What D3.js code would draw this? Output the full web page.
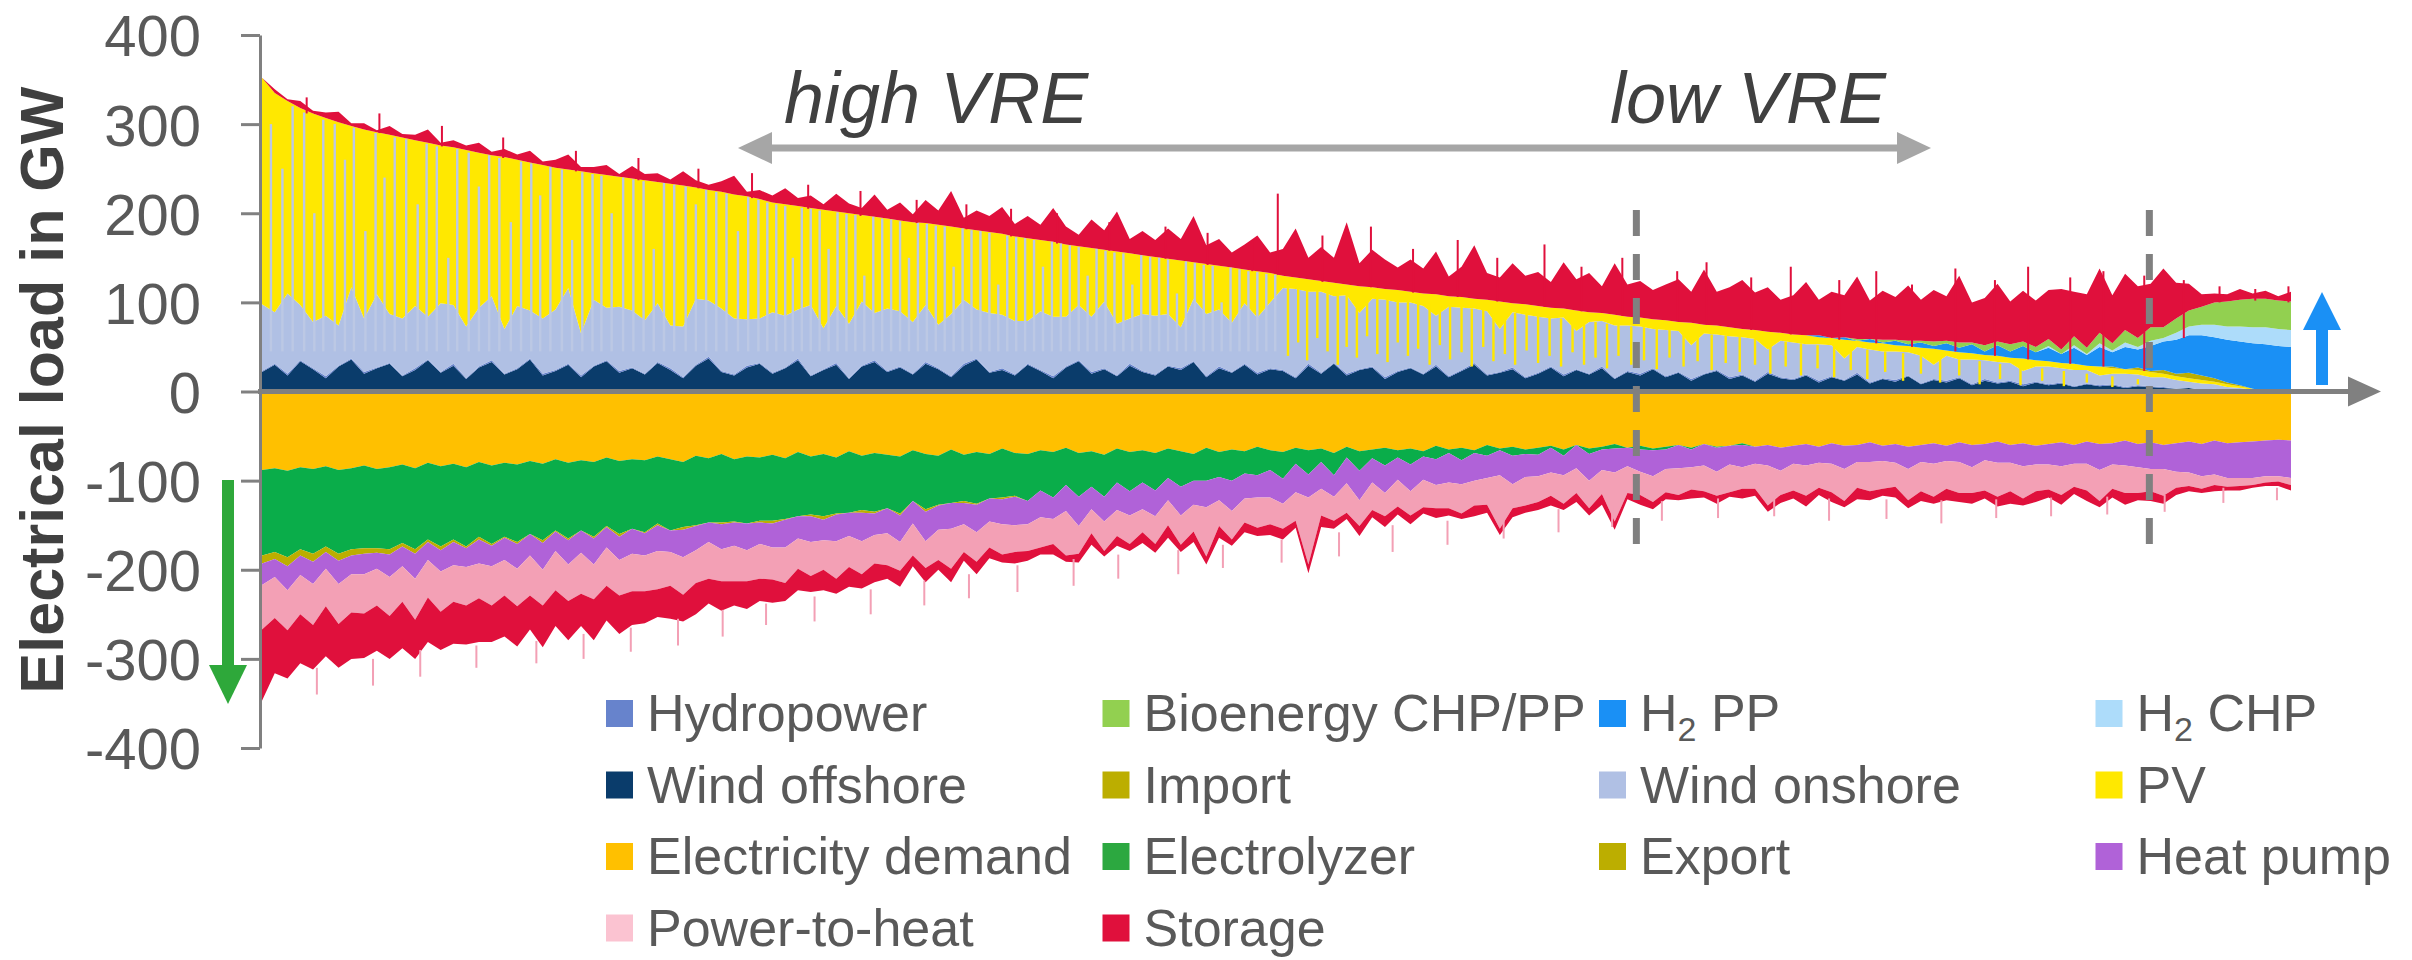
<!DOCTYPE html>
<html><head><meta charset="utf-8">
<script src="https://cdn.jsdelivr.net/npm/d3@7"></script>
<style>
body{margin:0;background:#fff}
svg{display:block}
text{font-family:"Liberation Sans",Arial,sans-serif}
</style>
</head><body>
<svg id="c" width="2412" height="960"></svg>
<script>
// ---- DATA (GW, hours sorted from high VRE to low VRE; 160 samples) ----
const vreTotal = [
352,335,326,318,312,307,302,298,294,291,
288,285,282,279,276,274,271,268,265,263,
260,257,254,251,249,247,245,243,241,239,
237,235,233,231,229,226,224,221,219,216,
212,210,208,206,204,202,200,198,196,194,
192,190,189,187,185,183,181,179,177,174,
172,170,168,165,163,161,159,157,155,153,
151,149,147,145,143,141,139,137,135,133,
130,128,126,124,122,120,118,117,115,114,
112,110,109,107,106,104,103,101,99,98,
96,94,93,91,89,88,86,84,83,81,
80,78,77,75,74,72,70,69,67,66,
64,63,61,60,58,57,55,54,52,51,
49,48,46,44,43,41,40,38,37,35,
34,32,31,29,28,26,25,24,22,20,
17,15,13,11,8,6,3,1,0,0];
const windOffshore = [
22,30,18,34,25,15,28,36,20,26,
31,17,24,35,21,29,14,27,33,19,
25,36,18,23,30,16,28,34,21,26,
19,32,24,15,29,37,22,18,27,31,
20,26,35,17,24,30,14,28,33,22,
27,19,31,25,16,29,36,21,24,18,
30,23,15,27,34,20,25,17,29,22,
18,28,24,33,16,26,21,30,19,25,
23,15,29,20,31,18,24,27,14,22,
26,19,28,16,23,30,18,21,25,15,
20,27,17,24,19,26,14,22,18,25,
16,21,12,19,23,14,18,11,20,15,
13,18,10,16,12,19,9,14,11,17,
8,13,10,15,7,12,9,11,6,10,
7,9,5,8,6,7,4,6,5,4,
3,4,2,3,1,2,1,0,0,0];
const hydropower = [
1,1,2,1,1,2,1,1,2,1, 1,1,2,1,1,2,1,1,2,1, 1,1,2,1,1,2,1,1,2,1,
1,1,2,1,1,2,1,1,2,1, 1,1,2,1,1,2,1,1,2,1, 1,1,2,1,1,2,1,1,2,1,
1,1,2,1,1,2,1,1,2,1, 1,1,2,1,1,2,1,1,2,1, 1,1,2,1,1,2,1,1,2,1,
1,1,2,1,1,2,1,1,2,1, 1,1,2,1,1,2,1,1,2,1, 1,1,2,1,1,2,1,1,2,1,
1,1,2,1,1,2,1,1,2,1, 1,1,2,1,1,2,1,1,2,1, 1,1,1,1,1,1,1,1,1,1,
0,0,0,0,0,0,0,0,0,0];
const windOnshore = [
75,58,90,62,52,68,45,80,60,82,
55,64,70,48,77,66,58,66,72,50,
70,54,62,68,85,47,74,59,72,64,
60,66,48,57,74,63,70,63,52,50,
68,58,55,79,46,64,61,72,53,70,
62,58,64,49,70,72,55,66,60,60,
48,66,67,56,62,62,75,58,51,64,
66,58,46,70,70,64,55,68,62,74,
92,99,81,91,75,88,63,76,87,77,
73,76,55,78,70,61,71,48,62,70,
63,54,64,43,58,51,59,51,53,44,
52,46,38,45,40,46,42,47,25,41,
41,34,41,35,24,29,37,30,32,26,
31,16,28,20,28,21,23,20,15,17,
20,16,18,15,11,12,15,12,10,11,
10,7,7,5,4,2,1,0,0,0];
// thin hourly stripes where wind onshore covers (almost) all VRE: [position, top GW]
const onshorePeakHours = [
[0.7,300],[1.6,250],[2.4,320],[3.3,313],[4.1,200],[4.8,305],[5.7,300],[6.5,260],[7.2,296],[8.1,180],
[8.9,290],[9.6,240],[10.4,285],[11.3,283],[12.2,210],[12.9,278],[13.7,275],[14.6,150],[15.3,272],[16.2,268],
[17.0,230],[17.8,265],[18.6,262],[19.5,190],[20.3,258],[21.1,256],[21.8,220],[22.6,252],[23.5,249],[24.3,170],
[25.1,246],[25.9,244],[26.6,242],[27.4,200],[28.3,240],[29.1,238],[29.9,236],[30.7,160],[31.5,234],[32.3,232],
[33.2,230],[34.0,210],[34.8,226],[35.6,224],[36.4,222],[37.3,180],[38.1,218],[38.9,215],[39.6,212],[40.3,210],
[41.0,208],[41.6,150],[42.3,206],[43.0,205],[43.7,203],[44.4,160],[45.1,201],[45.8,199],[46.5,198],[47.2,130],
[47.9,196],[48.6,194],[49.3,193],[50.0,191],[50.7,150],[51.4,189],[52.1,188],[52.8,186],[53.5,185],[54.2,140],
[54.9,183],[55.6,181],[56.3,180],[57.0,178],[57.7,120],[58.4,175],[59.1,173],[59.8,172],[60.5,170],[61.2,140],
[61.9,168],[62.6,166],[63.3,164],[64.0,162],[64.7,130],[65.4,160],[66.1,158],[66.8,156],[67.5,155],[68.2,120],
[68.9,153],[69.6,151],[70.3,150],[71.0,148],[71.7,110],[72.4,146],[73.1,144],[73.8,142],[74.5,141],[75.2,100],
[75.9,139],[76.6,137],[77.3,135],[78.0,134],[78.7,132],[79.4,131]];
// thin hourly stripes where PV reaches down into the wind band: [position, bottom GW, top GW]
const pvPeakHours = [
[80.4,40,120],[81.2,55,118],[81.9,35,117],[82.7,60,115],[83.5,45,113],[84.3,30,112],[85.0,50,110],[85.8,38,108],
[86.6,62,107],[87.4,42,106],[88.2,33,104],[89.0,55,103],[89.8,40,101],[90.6,48,100],[91.5,30,99],[92.3,52,97],
[93.1,36,96],[94.0,44,95],[94.8,28,93],[95.7,50,92],[96.5,34,91],[97.4,42,89],[98.2,30,88],[99.1,46,87],
[100.0,32,85],[100.9,40,84],[101.8,28,82],[102.7,44,81],[103.6,30,79],[104.5,38,78],[105.4,26,76],[106.3,40,75],
[107.3,30,73],[108.3,35,72],[109.3,25,70],[110.3,38,69],[111.4,28,67],[112.5,34,66],[113.6,24,64],[114.7,32,63],
[115.8,22,61],[117.0,30,59],[118.2,20,57],[119.4,28,56],[120.6,18,54],[121.9,26,52],[123.2,16,51],[124.5,24,49],
[125.8,14,47],[127.2,22,45],[128.6,12,43],[130.0,20,41],[131.5,10,39],[133.0,18,36],[134.6,8,34],[136.2,14,31],
[137.8,7,29],[139.5,12,26],[141.2,6,23],[143.0,10,20],[145.0,5,17],[147.0,8,14]];
// single-hour storage discharge peaks above the envelope: [position, base GW, top GW]
const storagePeakHours = [
[3.5,312,330],[9.2,290,312],[14.1,275,298],[18.9,262,285],[24.6,247,270],[29.5,237,262],[34.2,228,250],[38.4,217,245],
[42.8,205,232],[46.9,197,225],[51.3,189,215],[55.2,182,210],[58.7,174,205],[62.3,166,200],[66.4,158,190],[70.8,149,185],
[74.1,142,178],[77.6,135,170],[79.6,131,222],[83.1,123,175],[86.9,117,185],[90.2,111,160],[93.7,106,170],[96.8,101,150],
[100.5,95,165],[103.4,90,140],[106.6,85,150],[110.9,79,135],[113.2,75,145],[116.7,69,128],[119.8,64,140],[123.6,58,125],
[126.5,54,135],[129.3,50,120],[132.7,45,138],[135.8,40,125],[138.4,36,140],[141.7,31,128],[144.3,28,135],[147.5,23,130],
[150.6,60,125],[153.4,100,118],[156.2,102,115],[158.8,100,118]];
// single-hour power-to-heat peaks below the envelope: [position, from GW, to GW]
const powerToHeatPeakHours = [
[4.3,-310,-340],[8.7,-300,-330],[12.4,-290,-320],[16.8,-285,-310],[21.5,-280,-305],[25.2,-272,-300],[28.9,-265,-292],
[32.6,-255,-285],[36.1,-245,-275],[39.5,-238,-262],[43.3,-230,-258],[47.7,-222,-250],[51.9,-212,-240],[55.4,-205,-232],
[59.2,-195,-225],[63.6,-188,-218],[67.1,-183,-210],[71.8,-178,-205],[75.3,-172,-198],[79.9,-166,-192],[84.4,-158,-185],
[88.6,-150,-180],[92.9,-145,-172],[97.3,-138,-165],[101.6,-132,-158],[105.8,-128,-152],[109.7,-123,-145],[114.1,-120,-142],
[118.5,-119,-140],[122.8,-120,-145],[127.3,-121,-143],[131.6,-122,-148],[135.9,-121,-142],[140.2,-119,-140],[144.6,-118,-138],
[149.1,-116,-135],[153.7,-108,-125],[157.9,-108,-122]];
const importPower = [
0,0,0,0,0,0,0,0,0,0, 0,0,0,0,0,0,0,0,0,0, 0,0,0,0,0,0,0,0,0,0,
0,0,0,0,0,0,0,0,0,0, 0,0,0,0,0,0,0,0,0,0, 0,0,0,0,0,0,0,0,0,0,
0,0,0,0,0,0,0,0,0,0, 0,0,0,0,0,0,0,0,0,0, 0,0,0,0,0,0,0,0,0,0,
0,0,0,0,0,0,0,0,0,0, 0,0,0,0,0,0,0,0,0,0, 0,0,0,0,0,0,0,0,0,0,
0,0,0,0,0,0,0,0,0,0, 0,0,0,0,0,0,0,0,0,0, 0,0,0,0,0,2,0,3,1,4,
3,6,5,4,2,1,0,0,0,0];
const h2PP = [
0,0,0,0,0,0,0,0,0,0, 0,0,0,0,0,0,0,0,0,0, 0,0,0,0,0,0,0,0,0,0,
0,0,0,0,0,0,0,0,0,0, 0,0,0,0,0,0,0,0,0,0, 0,0,0,0,0,0,0,0,0,0,
0,0,0,0,0,0,0,0,0,0, 0,0,0,0,0,0,0,0,0,0, 0,0,0,0,0,0,0,0,0,0,
0,0,0,0,0,0,0,0,0,0, 0,0,0,0,0,0,0,0,0,0, 0,0,0,0,0,0,0,0,0,0,
0,0,2,0,3,0,4,1,5,2, 6,3,8,5,10,4,12,7,14,9, 15,10,18,12,22,16,25,20,28,32,
38,42,45,46,48,49,51,52,51,50];
const h2CHP = [
0,0,0,0,0,0,0,0,0,0, 0,0,0,0,0,0,0,0,0,0, 0,0,0,0,0,0,0,0,0,0,
0,0,0,0,0,0,0,0,0,0, 0,0,0,0,0,0,0,0,0,0, 0,0,0,0,0,0,0,0,0,0,
0,0,0,0,0,0,0,0,0,0, 0,0,0,0,0,0,0,0,0,0, 0,0,0,0,0,0,0,0,0,0,
0,0,0,0,0,0,0,0,0,0, 0,0,0,0,0,0,0,0,0,0, 0,0,0,0,0,0,0,0,0,0,
0,0,0,0,0,0,0,0,0,0, 0,0,0,0,0,0,0,0,0,0, 2,0,3,1,4,2,5,3,6,4,
8,10,12,14,15,17,18,19,19,19];
const bioenergy = [
0,0,0,0,0,0,0,0,0,0, 0,0,0,0,0,0,0,0,0,0, 0,0,0,0,0,0,0,0,0,0,
0,0,0,0,0,0,0,0,0,0, 0,0,0,0,0,0,0,0,0,0, 0,0,0,0,0,0,0,0,0,0,
0,0,0,0,0,0,0,0,0,0, 0,0,0,0,0,0,0,0,0,0, 0,0,0,0,0,0,0,0,0,0,
0,0,0,0,0,0,0,0,0,0, 0,0,0,0,0,0,0,0,0,0, 0,0,0,0,0,0,0,0,0,0,
0,0,0,0,0,2,0,3,1,4, 2,5,3,6,2,7,4,8,5,6, 8,5,10,7,12,8,14,10,15,12,
16,18,20,25,28,30,32,32,32,32];
const storageDischarge = [
0,4,2,8,3,6,12,3,7,2,
10,4,6,15,3,8,5,11,4,9,
6,13,4,9,17,5,7,11,3,14,
7,10,5,16,8,6,12,21,5,10,
8,18,9,14,6,20,11,8,25,10,
20,9,26,16,40,12,22,18,30,14,
25,17,38,20,13,32,22,45,16,27,
19,34,24,52,21,30,17,28,40,23,
30,55,24,38,28,70,26,42,33,25,
36,28,48,22,34,60,30,27,45,32,
38,29,52,35,44,30,58,36,41,33,
40,48,35,62,38,45,55,42,50,37,
44,60,40,52,47,70,43,55,48,62,
46,58,50,75,45,53,65,48,57,52,
55,68,50,60,72,54,63,58,49,66,
40,30,14,10,8,12,6,9,5,11];
// consumption side (GW, drawn downward)
const demand = [
88,86,89,85,87,84,88,86,83,87,
85,82,86,80,84,81,85,79,83,80,
82,78,81,76,80,77,79,74,78,76,
77,73,76,79,72,75,70,76,73,74,
71,75,68,73,70,74,67,72,69,71,
73,66,70,72,65,71,68,70,64,69,
70,66,68,63,69,67,71,64,68,66,
69,64,67,70,63,68,65,67,62,66,
68,63,66,64,69,62,67,65,63,66,
64,67,61,65,63,66,60,64,62,65,
63,61,65,60,64,62,59,63,61,64,
62,60,63,59,62,61,58,62,60,63,
61,59,62,58,61,60,57,61,59,62,
60,58,61,57,60,59,56,60,58,61,
59,57,60,56,59,58,55,59,57,60,
58,56,59,55,58,57,56,55,54,55];
const electrolyzer = [
96,94,97,92,95,90,94,91,93,89,
92,88,91,86,90,85,89,84,88,83,
87,82,86,80,85,79,84,77,82,78,
81,75,80,73,78,72,77,70,75,71,
74,68,72,65,70,63,69,61,66,60,
64,57,62,55,60,52,58,50,55,48,
53,45,51,42,49,40,47,38,44,36,
42,33,40,30,37,28,35,25,32,22,
30,18,27,15,25,12,22,10,20,8,
18,6,15,4,14,3,12,2,10,5,
8,2,7,0,6,3,5,0,4,2,
3,0,2,0,1,0,2,0,0,0,
0,0,0,0,0,0,0,0,0,0, 0,0,0,0,0,0,0,0,0,0,
0,0,0,0,0,0,0,0,0,0, 0,0,0,0,0,0,0,0,0,0];
const exportPower = [
9,8,10,7,9,6,8,7,6,5,
6,4,5,3,4,3,2,3,2,1,
2,0,3,1,2,0,2,1,3,0,
1,2,0,3,1,0,2,1,0,2,
3,1,0,2,4,1,0,3,2,0,
2,0,3,1,0,2,1,0,2,1,
0,0,0,0,0,0,0,0,0,0, 0,0,0,0,0,0,0,0,0,0, 0,0,0,0,0,0,0,0,0,0,
0,0,0,0,0,0,0,0,0,0, 0,0,0,0,0,0,0,0,0,0, 0,0,0,0,0,0,0,0,0,0,
0,0,0,0,0,0,0,0,0,0, 0,0,0,0,0,0,0,0,0,0, 0,0,0,0,0,0,0,0,0,0,
0,0,0,0,0,0,0,0,0,0];
const heatPump = [
24,20,27,22,25,19,26,21,23,18,
25,22,28,20,24,26,21,27,23,25,
28,24,30,22,27,25,29,23,26,28,
25,29,24,31,27,22,28,26,30,24,
27,31,25,29,23,30,26,32,24,28,
30,25,33,27,29,24,31,26,28,32,
26,30,24,29,33,25,28,31,27,30,
29,25,32,27,30,26,34,28,25,31,
28,32,26,30,24,29,33,27,31,25,
30,26,29,33,27,31,25,28,32,26,
24,28,22,26,30,23,27,21,25,29,
22,26,20,24,27,21,25,19,23,26,
20,24,18,23,26,19,22,17,21,25,
19,23,17,22,25,18,24,20,26,21,
23,27,21,25,29,24,28,26,30,27,
32,35,36,38,39,40,41,40,41,42];
const powerToHeat = [
50,46,45,44,46,42,45,43,44,41,
44,40,46,42,45,41,43,39,44,40,
42,45,40,44,41,46,39,43,40,42,
40,43,38,42,37,41,36,40,35,39,
36,40,34,38,33,42,35,37,32,36,
32,36,30,34,45,31,33,29,34,30,
30,34,28,50,31,27,33,29,32,26,
31,28,33,30,55,29,32,27,34,30,
28,32,75,30,27,33,29,31,26,30,
27,31,26,29,33,28,30,60,27,32,
29,26,32,28,31,27,55,30,26,29,
26,30,25,29,27,31,24,28,45,27,
30,34,28,32,36,29,33,31,27,35,
33,37,31,35,29,34,38,32,36,30,
28,32,26,30,35,27,31,29,25,30,
18,15,14,12,10,9,8,7,6,8];
const storageCharge = [
80,62,54,55,50,56,49,52,50,51,
48,52,44,50,43,47,44,49,41,46,
45,38,47,40,44,36,46,39,43,38,
36,31,37,30,35,28,33,27,31,25,
26,20,24,18,23,17,22,16,21,15,
18,12,16,11,15,10,14,12,9,13,
11,8,12,7,10,13,6,11,8,12,
10,14,8,12,9,13,7,11,9,12,
12,8,10,13,9,7,11,8,12,9,
10,7,11,8,6,12,9,7,10,8,
9,11,7,10,8,12,9,7,11,8,
8,6,10,7,9,5,11,8,7,9,
9,12,8,11,7,13,10,8,12,9,
11,8,13,10,12,9,11,14,8,12,
9,11,8,12,7,10,13,8,11,9,
8,6,5,7,4,5,3,4,5,6];

const yTickValues = [400,300,200,100,0,-100,-200,-300,-400];
const yTickLabels = ["400","300","200","100","0","-100","-200","-300","-400"];
const legendLabels = ["Hydropower","Bioenergy CHP/PP","H2 PP","H2 CHP","Wind offshore","Import","Wind onshore","PV","Electricity demand","Electrolyzer","Export","Heat pump","Power-to-heat","Storage"];
const legendColors = ["#6783cc","#92d050","#1a90f5","#addcfa","#0a3c6b","#bcae00","#b0c0e4","#ffe800","#ffc000","#2ca840","#bcae00","#b062d8","#fbc3d1","#e0103c"];

// ---- BUILD ----
const N = vreTotal.length;
const rows = d3.range(N).map(i => {
  const off = windOffshore[i], hyd = hydropower[i];
  const on = Math.min(windOnshore[i], Math.max(0, vreTotal[i] - off - hyd));
  const pv = Math.max(0, vreTotal[i] - off - hyd - on);
  return {i, off, hyd, on, pv, imp: importPower[i], h2pp: h2PP[i], h2chp: h2CHP[i], bio: bioenergy[i], stoOut: storageDischarge[i],
    dem: -demand[i], ely: -electrolyzer[i], exp: -exportPower[i], hp: -heatPump[i], p2h: -powerToHeat[i], stoIn: -storageCharge[i]};
});
const posKeys = ["off","hyd","on","pv","imp","h2pp","h2chp","bio","stoOut"];
const negKeys = ["dem","ely","exp","hp","p2h","stoIn"];
const fill = {off:"#0a3c6b",hyd:"#6783cc",on:"#b0c0e4",pv:"#ffe800",imp:"#bcae00",h2pp:"#1a90f5",h2chp:"#addcfa",bio:"#92d050",stoOut:"#e0103c",
  dem:"#ffc000",ely:"#0aad4a",exp:"#bcae00",hp:"#b062d8",p2h:"#f3a0b5",stoIn:"#e0103c"};

const svg = d3.select("#c");
svg.append("rect").attr("width",2412).attr("height",960).attr("fill","#fff");
const x = d3.scaleLinear().domain([0, N-1]).range([262, 2291]);
const y = d3.scaleLinear().domain([-400, 400]).range([748, 35]);

const layers = d3.stack().keys(posKeys)(rows).concat(d3.stack().keys(negKeys)(rows));
const area = d3.area().x(d => x(d.data.i)).y0(d => y(d[0])).y1(d => y(d[1])).curve(d3.curveLinear);
const gData = svg.append("g");
gData.selectAll("path").data(layers).join("path")
  .attr("d", area).attr("fill", d => fill[d.key]);

// single-hour stripes / peaks
gData.selectAll("rect.sto").data(storagePeakHours).join("rect").attr("class","sto")
  .attr("x", d => x(d[0]) - 1).attr("width", 2)
  .attr("y", d => y(d[2])).attr("height", d => y(d[1]) - y(d[2])).attr("fill", fill.stoOut);
gData.selectAll("rect.p2h").data(powerToHeatPeakHours).join("rect").attr("class","p2h")
  .attr("x", d => x(d[0]) - 1).attr("width", 2)
  .attr("y", d => y(d[1])).attr("height", d => y(d[2]) - y(d[1])).attr("fill", fill.p2h);
gData.selectAll("rect.on").data(onshorePeakHours).join("rect").attr("class","on")
  .attr("x", d => x(d[0]) - 1.2).attr("width", 2.4)
  .attr("y", d => y(d[1])).attr("height", d => y(45) - y(d[1])).attr("fill", "#bcc8e4");
gData.selectAll("rect.pv").data(pvPeakHours).join("rect").attr("class","pv")
  .attr("x", d => x(d[0]) - 1.2).attr("width", 2.4)
  .attr("y", d => y(d[2])).attr("height", d => y(d[1]) - y(d[2])).attr("fill", fill.pv);

// y axis
const gy = svg.append("g").attr("transform","translate(260,0)")
  .call(d3.axisLeft(y).tickValues(yTickValues).tickFormat((d,i)=>yTickLabels[i]).tickSize(19).tickSizeOuter(0).tickPadding(40));
gy.select(".domain").attr("stroke","#808080").attr("stroke-width",3);
gy.selectAll(".tick line").attr("stroke","#808080").attr("stroke-width",3);
gy.selectAll(".tick text").attr("font-size",58).attr("fill","#595959").attr("dy","0.36em")
  .attr("font-family","'Liberation Sans',Arial,sans-serif");

// x axis with arrow
const y0 = y(0);
svg.append("line").attr("x1",258).attr("x2",2352).attr("y1",y0).attr("y2",y0).attr("stroke","#808080").attr("stroke-width",5);
svg.append("path").attr("d",`M2348,${y0-15}L2381,${y0}L2348,${y0+15}Z`).attr("fill","#808080");

// dashed separators
[107.7, 147.9].forEach(v => {
  svg.append("line").attr("x1",x(v)).attr("x2",x(v)).attr("y1",210).attr("y2",553)
    .attr("stroke","#808080").attr("stroke-width",7).attr("stroke-dasharray","26 18");
});

// VRE double arrow
svg.append("line").attr("x1",765).attr("x2",1905).attr("y1",148).attr("y2",148).attr("stroke","#a6a6a6").attr("stroke-width",7);
svg.append("path").attr("d","M738,148L772,132L772,164Z").attr("fill","#a6a6a6");
svg.append("path").attr("d","M1931,148L1897,132L1897,164Z").attr("fill","#a6a6a6");
svg.append("text").attr("x",784).attr("y",123).attr("font-size",72).attr("font-style","italic").attr("fill","#404040").text("high VRE");
svg.append("text").attr("x",1610).attr("y",123).attr("font-size",72).attr("font-style","italic").attr("fill","#404040").text("low VRE");

// green down arrow
svg.append("rect").attr("x",222).attr("y",480).attr("width",12).attr("height",188).attr("fill","#2ea83a");
svg.append("path").attr("d","M209,665L247,665L228,704Z").attr("fill","#2ea83a");
// blue up arrow
svg.append("rect").attr("x",2316).attr("y",327).attr("width",12).attr("height",58).attr("fill","#1a90f5");
svg.append("path").attr("d","M2303,330L2341,330L2322,292Z").attr("fill","#1a90f5");

// y title
svg.append("text").attr("transform","translate(63,390) rotate(-90)").attr("text-anchor","middle")
  .attr("font-size",61).attr("font-weight","bold").attr("fill","#404040").text("Electrical load in GW");

// legend
const lg = svg.append("g");
legendLabels.forEach((lab, k) => {
  const col = k % 4, row = Math.floor(k / 4);
  const sx = 606 + col * 496.5, sy = 700 + row * 71.5;
  lg.append("rect").attr("x",sx).attr("y",sy).attr("width",27).attr("height",27).attr("fill",legendColors[k]);
  const t = lg.append("text").attr("x",sx+41).attr("y",sy+31).attr("font-size",52).attr("fill","#595959");
  if (lab.startsWith("H2")) {
    t.append("tspan").text("H");
    t.append("tspan").attr("font-size",34).attr("dy",10).text("2");
    t.append("tspan").attr("dy",-10).text(lab.slice(2));
  } else t.text(lab);
});
</script>
</body></html>
